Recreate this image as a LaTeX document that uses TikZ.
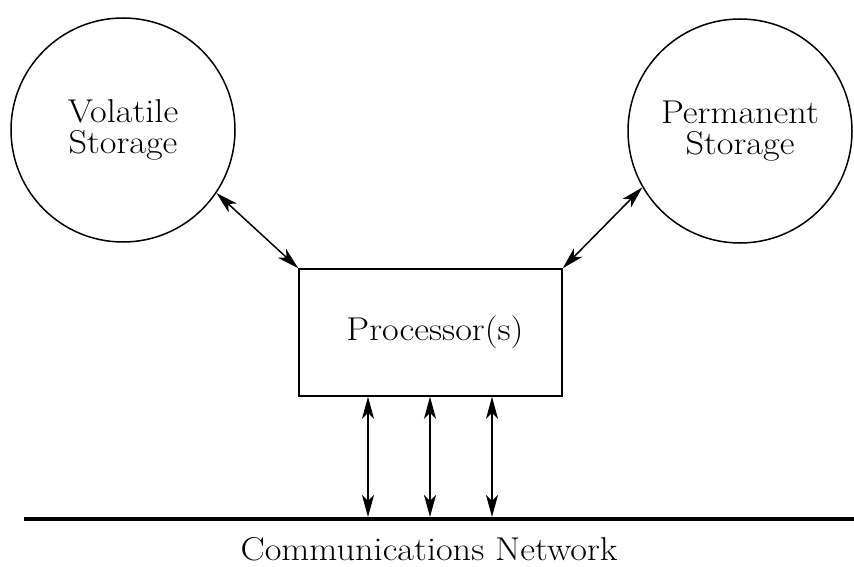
\documentclass[tikz,border=0pt]{standalone}
\usepackage{graphicx}
\usetikzlibrary{arrows.meta}
\newcommand{\wtext}[1]{\scalebox{1.1}[1]{#1}}
\begin{document}
\begin{tikzpicture}[x=1pt,y=-1pt,
  lw/.style={line width=1.5pt},
  store/.style={circle,draw,lw,minimum size=224pt,inner sep=0pt,align=center,font=\fontsize{33}{31}\selectfont},
  procbox/.style={rectangle,draw,lw,minimum width=263pt,minimum height=127pt,inner sep=0pt,font=\fontsize{33}{36}\selectfont},
  tip/.style={Stealth[length=22pt,width=12pt,inset=6pt]},
  dbl/.style={lw,{Stealth[length=22pt,width=12pt,inset=6pt]}-{Stealth[length=22pt,width=12pt,inset=6pt]}},
  net/.style={line width=3.5pt},
  lbl/.style={font=\fontsize{33}{36}\selectfont,inner sep=0pt}]
\useasboundingbox (0,0) rectangle (854,567);
\node[store] (vol) at (123,130) {\wtext{Volatile}\\\wtext{Storage}};
\node[store] (perm) at (740,131) {\wtext{Permanent}\\\wtext{Storage}};
\node[procbox] (proc) at (430.5,332.5) {\hspace{9pt}\wtext{Processor(s)}};
\coordinate (netL) at (24,519);
\coordinate (netR) at (854,519);
\draw[net] (netL) -- (netR);
\node[lbl,anchor=base] (netlbl) at (429,560) {\wtext{Communications Network}};
\draw[dbl] (vol.-34) -- (proc.north west);
\draw[dbl] (perm.210) -- (proc.north east);
\coordinate (n1) at (368,517);
\coordinate (n2) at (430,517);
\coordinate (n3) at (492,517);
\draw[dbl] (n1 |- proc.south) -- (n1);
\draw[dbl] (n2 |- proc.south) -- (n2);
\draw[dbl] (n3 |- proc.south) -- (n3);
\end{tikzpicture}
\end{document}
